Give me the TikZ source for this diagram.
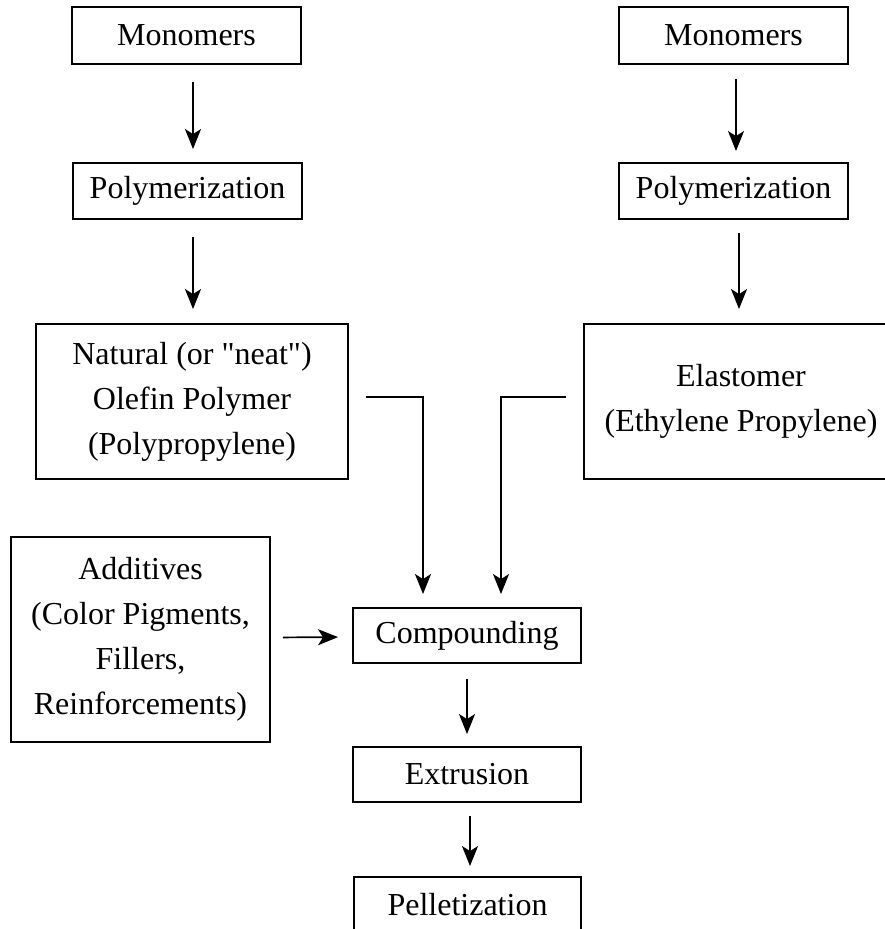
\documentclass[tikz,border=0pt]{standalone}
\usepackage{fontspec}
\setmainfont{Liberation Serif}[Ligatures=TeXOff]
\usetikzlibrary{arrows.meta}
\begin{document}
\begin{tikzpicture}[x=1pt,y=-1pt,
  box/.style={draw,line width=1.9pt,inner sep=0pt,align=center,
    font=\fontsize{32}{45}\selectfont},
  flow/.style={line width=1.7pt,-{Stealth[length=20pt,width=16pt,inset=5pt]}}]
\clip (0,0) rectangle (885,929);
\fill[white] (0,0) rectangle (885,929);

% left branch: polypropylene
\node[box,minimum width=229pt,minimum height=57pt] (monoL) at (186.5,35.5) {Monomers};
\node[box,minimum width=229pt,minimum height=56pt] (polyL) at (187.5,191) {Polymerization};
\node[box,minimum width=312pt,minimum height=155pt] (neat) at (192,401.5)
  {Natural (or "neat")\\Olefin Polymer\\(Polypropylene)};

% right branch: elastomer
\node[box,minimum width=314pt,minimum height=155pt,
  font=\fontsize{32}{45}\selectfont] (elast) at (741,401.5)
  {Elastomer\\(Ethylene Propylene)};
\node[box,minimum width=229pt,minimum height=57pt] (monoR) at (733.5,35.5) {Monomers};
\node[box,minimum width=229pt,minimum height=56pt] (polyR) at (733.5,191) {Polymerization};

% additives and processing line
\node[box,minimum width=259pt,minimum height=205pt] (addit) at (140.5,639.5)
  {Additives\\(Color Pigments,\\Fillers,\\Reinforcements)};
\node[box,minimum width=228pt,minimum height=55pt] (comp) at (467,635.5) {Compounding};
\node[box,minimum width=228pt,minimum height=55pt] (extr) at (467,774.5) {Extrusion};
\node[box,minimum width=227pt,minimum height=55pt] (pell) at (467.5,904.5) {Pelletization};

% vertical arrows in the two branches
\draw[flow,shorten <=17pt,shorten >=13pt] ([xshift=6.5pt]monoL.south) -- ([xshift=5.5pt]polyL.north);
\draw[flow,shorten <=17pt,shorten >=14pt] ([xshift=5.5pt]polyL.south) -- ([xshift=1pt]neat.north);
\draw[flow,shorten <=14pt,shorten >=11pt] ([xshift=2.5pt]monoR.south) -- ([xshift=2.5pt]polyR.north);
\draw[flow,shorten <=13pt,shorten >=14pt] ([xshift=5.5pt]polyR.south) -- ([xshift=-2pt]elast.north);

% feeds into compounding
\coordinate (neatOut) at ([xshift=17pt,yshift=4.5pt]neat.east);
\coordinate (elastOut) at ([xshift=-17pt,yshift=4.5pt]elast.west);
\draw[flow,shorten >=13pt] (neatOut) -| ([xshift=-44pt]comp.north);
\draw[flow,shorten >=13pt] (elastOut) -| ([xshift=34pt]comp.north);
\draw[flow,shorten <=12pt,shorten >=14pt] ([yshift=2pt]addit.east) -- ([yshift=-1.5pt]comp.west);

% processing sequence
\draw[flow,shorten <=15pt,shorten >=12pt] (comp.south) -- (extr.north);
\draw[flow,shorten <=13pt,shorten >=10pt] ([xshift=3pt]extr.south) -- ([xshift=2.5pt]pell.north);
\end{tikzpicture}
\end{document}
